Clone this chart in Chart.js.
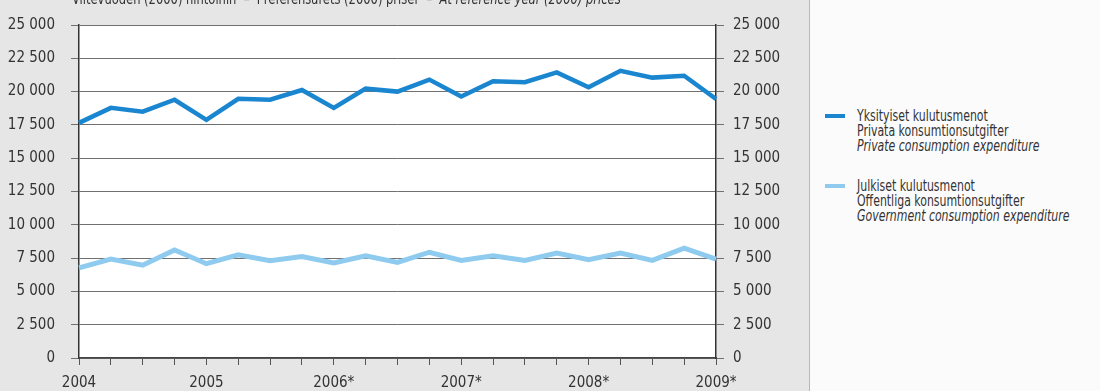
<!DOCTYPE html>
<html>
<head>
<meta charset="utf-8">
<script src="https://cdn.jsdelivr.net/npm/chart.js@4/dist/chart.umd.min.js"></script>
<style>
  html, body { margin: 0; padding: 0; width: 1100px; height: 391px; overflow: hidden; background: #fbfbfb; }
  #wrap { position: absolute; left: 0; top: 0; width: 810px; height: 391px; }
  #panelBorder { position: absolute; left: 809px; top: 0; width: 1px; height: 391px; background: #b8b8b8; }
  .legend { position: absolute; left: 0; top: 0; font-family: "Liberation Sans Narrow", "DejaVu Sans Condensed", sans-serif; font-size: 16px; line-height: 15px; color: #333; white-space: nowrap; }
  .item { position: absolute; left: 857px; transform: scaleX(0.76); transform-origin: 0 0; }
  .sw { position: absolute; left: 825px; width: 20px; height: 4px; }
  .it { font-style: italic; }
</style>
</head>
<body>
<div id="wrap"><canvas id="c"></canvas></div>
<div id="panelBorder"></div>
<div class="legend">
  <div class="sw" id="sw0" style="top:114px;"></div>
  <div class="item" style="top:108px;">
    <div id="l0a"></div><div id="l0b"></div><div id="l0c" class="it"></div>
  </div>
  <div class="sw" id="sw1" style="top:184px;"></div>
  <div class="item" style="top:178px;">
    <div id="l1a"></div><div id="l1b"></div><div id="l1c" class="it"></div>
  </div>
</div>
<script>
// ---- data ----
const quarters = ["2004Q1","2004Q2","2004Q3","2004Q4","2005Q1","2005Q2","2005Q3","2005Q4",
  "2006Q1","2006Q2","2006Q3","2006Q4","2007Q1","2007Q2","2007Q3","2007Q4",
  "2008Q1","2008Q2","2008Q3","2008Q4","2009Q1"];
const yearLabels = ["2004","2005","2006*","2007*","2008*","2009*"];
const privateConsumption = [17650,18780,18490,19390,17880,19460,19390,20120,18780,20220,
  20000,20900,19630,20780,20710,21440,20320,21560,21050,21190,19440];
const governmentConsumption = [6770,7430,6970,8110,7080,7740,7300,7620,7130,7670,
  7180,7940,7330,7670,7330,7870,7380,7870,7330,8240,7430];
const seriesNames = [
  ["Yksityiset kulutusmenot","Privata konsumtionsutgifter","Private consumption expenditure"],
  ["Julkiset kulutusmenot","Offentliga konsumtionsutgifter","Government consumption expenditure"]
];
const headerParts = ["Viitevuoden (2000) hintoihin  –  I referensårets (2000) priser  –  ", "At reference year (2000) prices"];
const seriesColors = ["#1a86d0", "#8ecbef"];

// ---- legend text ----
["a","b","c"].forEach((k,i) => {
  document.getElementById("l0"+k).textContent = seriesNames[0][i];
  document.getElementById("l1"+k).textContent = seriesNames[1][i];
});
document.getElementById("sw0").style.background = seriesColors[0];
document.getElementById("sw1").style.background = seriesColors[1];

const FONT = '"Liberation Sans Narrow", "DejaVu Sans Condensed", sans-serif';
const fmt = v => String(v).replace(/\B(?=(\d{3})+(?!\d))/g, " ");

const bgPlugin = {
  id: "bg",
  beforeDraw(chart) {
    const ctx = chart.ctx, a = chart.chartArea;
    ctx.save();
    ctx.fillStyle = "#e6e6e6";
    ctx.fillRect(0, 0, chart.width, chart.height);
    ctx.fillStyle = "#ffffff";
    ctx.fillRect(a.left, a.top, a.right - a.left, a.bottom - a.top);
    ctx.restore();
  },
  afterDraw(chart) {
    const ctx = chart.ctx;
    ctx.save();
    ctx.fillStyle = "#333";
    ctx.textBaseline = "alphabetic";
    ctx.translate(72, 4);
    ctx.scale(0.8, 1);
    ctx.font = "16px " + FONT;
    ctx.fillText(headerParts[0], 0, 0);
    const w = ctx.measureText(headerParts[0]).width;
    ctx.font = "italic 16px " + FONT;
    ctx.fillText(headerParts[1], w, 0);
    ctx.restore();
  }
};

new Chart(document.getElementById("c"), {
  type: "line",
  data: {
    labels: quarters,
    datasets: [
      { label: seriesNames[0][0], data: privateConsumption, borderColor: seriesColors[0], borderWidth: 4.5, pointRadius: 0, tension: 0, borderJoinStyle: "miter", yAxisID: "y" },
      { label: seriesNames[1][0], data: governmentConsumption, borderColor: seriesColors[1], borderWidth: 5, pointRadius: 0, tension: 0, borderJoinStyle: "miter", yAxisID: "y" }
    ]
  },
  options: {
    responsive: true,
    maintainAspectRatio: false,
    devicePixelRatio: 1,
    animation: false,
    layout: { padding: { top: 17, left: 0, right: 0, bottom: 0 } },
    plugins: { legend: { display: false }, tooltip: { enabled: false } },
    scales: {
      x: {
        type: "category",
        offset: false,
        afterFit(s) { s.height = 33; },
        grid: { drawOnChartArea: false, drawTicks: true, tickLength: 7, color: "#555", tickWidth: 1 },
        border: { display: true, color: "#444", width: 1.5 },
        ticks: {
          autoSkip: false, maxRotation: 0, minRotation: 0, padding: 9,
          color: "#333", font: { family: FONT, size: 15 },
          callback: (v, i) => (i % 4 === 0 ? yearLabels[i / 4] : "")
        }
      },
      y: {
        position: "left", min: 0, max: 25000,
        afterFit(s) { s.width = 79; },
        grid: { drawOnChartArea: true, color: "#707070", lineWidth: 1, tickLength: 8 },
        border: { display: true, color: "#333", width: 1.5 },
        ticks: { stepSize: 2500, padding: 16, color: "#333", font: { family: FONT, size: 15 }, callback: v => fmt(v) }
      },
      y2: {
        position: "right", min: 0, max: 25000,
        afterFit(s) { s.width = 94; },
        grid: { drawOnChartArea: false, color: "#707070", lineWidth: 1, tickLength: 8 },
        border: { display: true, color: "#333", width: 1.5 },
        ticks: { stepSize: 2500, padding: 9, color: "#333", font: { family: FONT, size: 15 }, callback: v => fmt(v) }
      }
    }
  },
  plugins: [bgPlugin]
});
</script>
</body>
</html>
